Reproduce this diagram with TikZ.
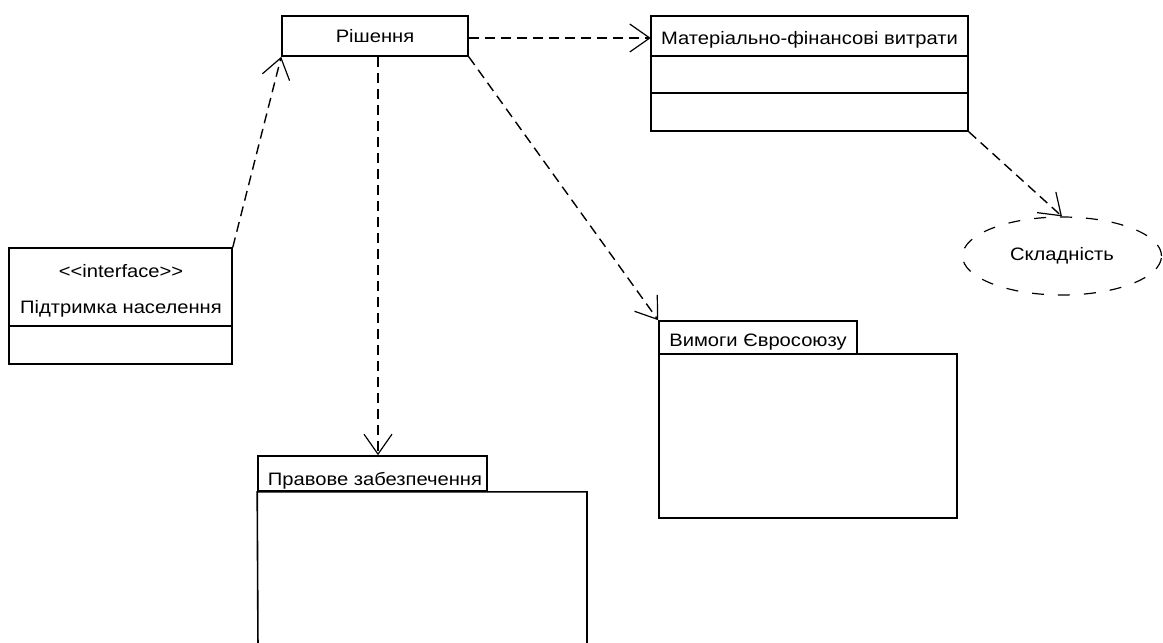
\documentclass[tikz,border=0pt]{standalone}
\usepackage{fontspec}
\setmainfont{Liberation Sans}[FakeStretch=1.12,Ligatures=TeXOff]
\usetikzlibrary{arrows.meta,shapes.geometric,calc}
\begin{document}
\begin{tikzpicture}[x=1pt,y=-1pt,
 box/.style={draw,line width=1.6pt,inner sep=0pt,font=\fontsize{18}{21}\selectfont},
 lbl/.style={inner sep=0pt,font=\fontsize{18}{21}\selectfont},
 edge/.style={line width=1.6pt},
 dep/.style={line width=1.4pt,dash pattern=on 10pt off 6pt,-{Straight Barb[length=20pt,width=28pt,line width=1.2pt]}},
 ]
\useasboundingbox (0,0) rectangle (1163,643);
\fill[white] (0,0) rectangle (1163,643);

% Рішення
\node[box,minimum width=186pt,minimum height=40pt] (rish) at (375,36) {Рішення};

% Матеріально-фінансові витрати
\node[box,minimum width=317pt,minimum height=115pt] (mat) at (809.5,73.5) {};
\node[inner sep=0pt,minimum width=317pt,minimum height=40pt] (matname) at (809.5,38) {};
\node[lbl] (mattxt) at (809.5,40) {Матеріально-фінансові витрати};
\draw[edge] (651,56) -- (968,56);
\draw[edge] (651,93) -- (968,93);

% Складність
\node[ellipse,draw,line width=1.2pt,dash pattern=on 12pt off 14pt,minimum width=199pt,minimum height=78pt,inner sep=0pt,font=\fontsize{18}{21}\selectfont] (skl) at (1062,256) {Складність};

% interface
\node[box,minimum width=223pt,minimum height=116pt] (iface) at (120.5,306) {};
\node[lbl] (ster) at (121,271) {<\kern0pt<interface>\kern0pt>};
\node[lbl] (ifname) at (121,309) {Підтримка населення};
\draw[edge] (9,326) -- (232,326);

% Вимоги Євросоюзу
\node[box,minimum width=198pt,minimum height=33pt] (vtab) at (758,337.5) {};
\node[lbl] (vtxt) at (758,342) {Вимоги Євросоюзу};
\node[box,minimum width=298pt,minimum height=164pt] (vbody) at (808,436) {};

% Правове забезпечення
\node[box,minimum width=229pt,minimum height=35pt] (ptab) at (372.5,473.5) {};
\node[lbl] (ptxt) at (375,481) {Правове забезпечення};
\coordinate (pbl) at (258,650);
\coordinate (pbr) at (587,650);
\draw[edge] (pbl) -- (ptab.south west) -- (ptab.south west -| pbr) -- (pbr);

% connectors
\coordinate (rs) at ($(rish.south)+(3,0)$);
\coordinate (pt) at (rs |- ptab.north);
\draw[dep] (iface.north east) -- (rish.south west);
\draw[dep] (rish.east |- matname.west) -- (matname.west);
\draw[dep] (rish.south east) -- (vtab.north west);
\draw[dep] (rs) -- (pt);
\draw[dep] (mat.south east) -- (skl.north);
\end{tikzpicture}
\end{document}
